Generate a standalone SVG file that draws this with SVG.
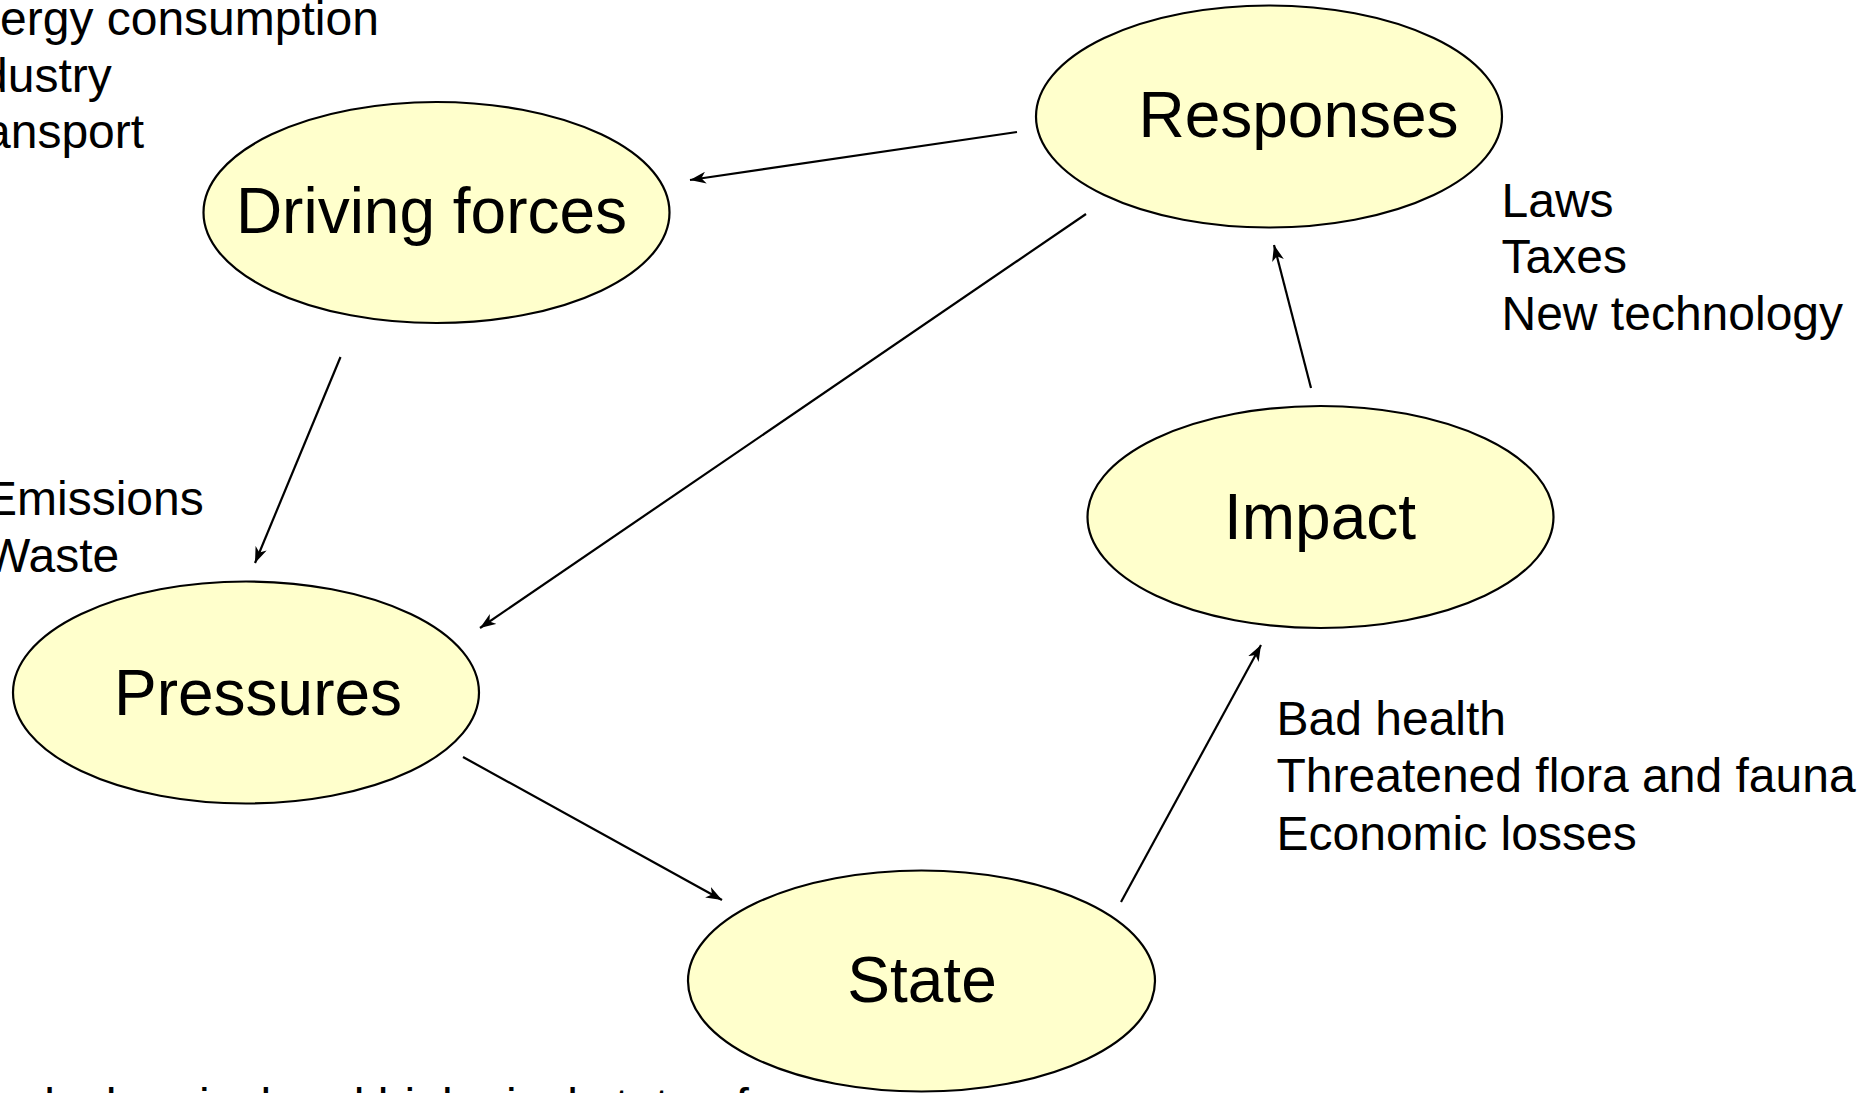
<svg xmlns="http://www.w3.org/2000/svg" width="1867" height="1093" viewBox="0 0 1867 1093">
<style>
.node ellipse{fill:#FFFFCC;stroke:#000;stroke-width:2.2}
.lbl{font-family:"Liberation Sans",Arial,sans-serif;font-size:64px;fill:#000;text-anchor:middle}
.note{font-family:"Liberation Sans",Arial,sans-serif;font-size:48px;fill:#000}
.conn line{stroke:#000;stroke-width:2.2;fill:none}
</style>
<defs>
<marker id="arr" viewBox="0 0 16 12" refX="16" refY="6" markerWidth="16" markerHeight="12" markerUnits="userSpaceOnUse" orient="auto">
<path d="M0,0 L16,6 L0,12 L4.5,6 Z" fill="#000"/>
</marker>
</defs>
<rect width="1867" height="1093" fill="#fff"/>
<g id="notes">
<text class="note" x="0" y="35">ergy consumption</text>
<text class="note" x="-19" y="92">dustry</text>
<text class="note" x="-16" y="148">ansport</text>
<text class="note" x="-15" y="515">Emissions</text>
<text class="note" x="-15" y="572">Waste</text>
<text class="note" x="1501.5" y="217">Laws</text>
<text class="note" x="1501.5" y="273">Taxes</text>
<text class="note" x="1501.5" y="330">New technology</text>
<text class="note" x="1276.5" y="735">Bad health</text>
<text class="note" x="1276.5" y="792">Threatened flora and fauna</text>
<text class="note" x="1276.5" y="850">Economic losses</text>
<text class="note" x="-17" y="1122">ical, chemical and biological state of</text>
</g>
<g class="conn" id="connectors">
<line x1="1017" y1="132" x2="690" y2="180" marker-end="url(#arr)"/>
<line x1="340.5" y1="357" x2="255" y2="563" marker-end="url(#arr)"/>
<line x1="1086" y1="214" x2="480" y2="628" marker-end="url(#arr)"/>
<line x1="463" y1="757" x2="722" y2="900" marker-end="url(#arr)"/>
<line x1="1121" y1="902" x2="1261" y2="645" marker-end="url(#arr)"/>
<line x1="1311" y1="388" x2="1274" y2="245" marker-end="url(#arr)"/>
</g>
<g class="node" id="driving-forces">
<ellipse cx="436.5" cy="212.5" rx="233" ry="110.5"/>
<text class="lbl" x="431.5" y="233">Driving forces</text>
</g>
<g class="node" id="responses">
<ellipse cx="1269" cy="116.5" rx="233" ry="111"/>
<text class="lbl" x="1298.5" y="137">Responses</text>
</g>
<g class="node" id="impact">
<ellipse cx="1320.5" cy="517" rx="233" ry="111"/>
<text class="lbl" x="1320" y="539">Impact</text>
</g>
<g class="node" id="pressures">
<ellipse cx="246" cy="692.5" rx="233" ry="111"/>
<text class="lbl" x="258" y="715">Pressures</text>
</g>
<g class="node" id="state">
<ellipse cx="921.5" cy="981" rx="233.5" ry="110.5"/>
<text class="lbl" x="922" y="1002">State</text>
</g>
</svg>
